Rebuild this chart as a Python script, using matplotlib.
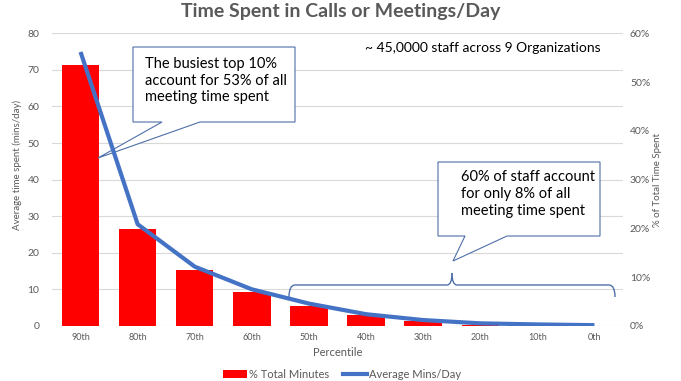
import matplotlib
matplotlib.use("Agg")
import matplotlib.pyplot as plt
from matplotlib.patches import Polygon, PathPatch
from matplotlib.path import Path
from matplotlib.lines import Line2D
from matplotlib.patches import Patch
from matplotlib.ticker import FuncFormatter

# ---------------- data ----------------
percentiles = ["90th", "80th", "70th", "60th", "50th", "40th", "30th", "20th", "10th", "0th"]
pct_total_minutes = [53.6, 19.9, 11.5, 6.9, 4.0, 2.2, 1.05, 0.25, 0.1, 0.02]   # right axis, %
avg_mins_per_day = [74.9, 27.8, 16.2, 10.0, 6.1, 3.2, 1.6, 0.7, 0.4, 0.2]     # left axis, mins
left_ticks = [0, 10, 20, 30, 40, 50, 60, 70, 80]
right_ticks = [0, 10, 20, 30, 40, 50, 60]

title = "Time Spent in Calls or Meetings/Day"
note = "~ 45,0000 staff across 9 Organizations"
callout1 = "The busiest top 10%\naccount for 53% of all\nmeeting time spent"
callout2 = "60% of staff account\nfor only 8% of all\nmeeting time spent"

# ---------------- style ----------------
plt.rcParams['font.family'] = ['Lato', 'DejaVu Sans']
W, H = 681, 381
fig = plt.figure(figsize=(W / 100, H / 100), dpi=100)
grey = "#595959"
red = "#FF0000"
blue = "#4472C4"
edge = "#4F6FA8"

def fx(px):
    return px / W

def fy(py):
    return 1 - py / H

left, right, top, bottom = 52, 623, 33.3, 325.9
ax = fig.add_axes([fx(left), fy(bottom), fx(right) - fx(left), fy(top) - fy(bottom)])
ax2 = ax.twinx()   # bars (percent)
ax3 = ax.twinx()   # line (minutes)

x = list(range(len(percentiles)))

# gridlines on host axis
ax.set_ylim(0, 80)
ax.set_yticks(left_ticks)
ax.grid(axis='y', color='#D9D9D9', lw=0.8)
ax.set_axisbelow(True)
ax.set_xlim(-0.5, len(percentiles) - 0.5)
ax.set_xticks(x)
ax.set_xticklabels(percentiles)
ax.tick_params(axis='x', length=0, pad=5, labelsize=6.5, labelcolor=grey)
ax.tick_params(axis='y', length=0, pad=9, labelsize=7.5, labelcolor=grey)
for s in ax.spines.values():
    s.set_visible(False)
ax.set_xlabel("Percentile", fontsize=8, color=grey, labelpad=4)
ax.set_ylabel("Average time spent (mins/day)", fontsize=7, color=grey, labelpad=3)
ax.yaxis.set_label_coords(-0.052, 0.55)

# bars on the right axis
ax2.bar(x, pct_total_minutes, width=0.656, color=red, zorder=2)
ax2.set_ylim(0, 60)
ax2.set_yticks(right_ticks)
ax2.yaxis.set_major_formatter(FuncFormatter(lambda v, p: f"{v:.0f}%"))
ax2.tick_params(axis='y', length=0, pad=5, labelsize=7.5, labelcolor=grey)
for s in ax2.spines.values():
    s.set_visible(False)
ax2.set_ylabel("% of Total Time Spent", fontsize=7, color=grey, labelpad=2)

# line on third axis sharing the left scale
ax3.set_ylim(0, 80)
ax3.plot(x, avg_mins_per_day, color=blue, lw=3, solid_capstyle='butt', solid_joinstyle='round', zorder=3)
ax3.set_yticks([])
for s in ax3.spines.values():
    s.set_visible(False)

# ---------------- title & note ----------------
fig.text(fx(341), fy(12), title, ha='center', va='center', fontsize=14,
         fontweight='bold', color=grey)
fig.text(fx(365), fy(48), note, ha='left', va='center', fontsize=10, color='black')

# ---------------- callouts ----------------
def pts(lst):
    return [(fx(a), fy(b)) for a, b in lst]

c1 = Polygon(pts([(133, 47), (295, 47), (295, 122), (200, 122), (98, 158), (162, 122), (133, 122)]),
             closed=True, facecolor='white', edgecolor=edge, lw=0.8,
             transform=fig.transFigure, zorder=2, clip_on=False)
ax3.add_patch(c1)
ax3.text(fx(145), fy(57), callout1, transform=fig.transFigure, ha='left', va='top',
         fontsize=10.5, color='black', linespacing=1.25, zorder=4)

c2 = Polygon(pts([(438, 162), (600, 162), (600, 236), (507, 236), (453, 261), (465, 236), (438, 236)]),
             closed=True, facecolor='white', edgecolor=edge, lw=0.8,
             transform=fig.transFigure, zorder=2, clip_on=False)
ax3.add_patch(c2)
ax3.text(fx(461), fy(170), callout2, transform=fig.transFigure, ha='left', va='top',
         fontsize=10.5, color='black', linespacing=1.25, zorder=4)

# ---------------- brace ----------------
def brace_half(xa, xm, sgn):
    verts = [(xa, 297), (xa, 285), (xa + sgn * 6, 285), (xm - sgn * 5, 285), (xm, 285), (xm, 273)]
    codes = [Path.MOVETO, Path.CURVE3, Path.CURVE3, Path.LINETO, Path.CURVE3, Path.CURVE3]
    return Path([(fx(a), fy(b)) for a, b in verts], codes)

for xa, sgn in [(289, 1), (615, -1)]:
    ax3.add_patch(PathPatch(brace_half(xa, 452, sgn), facecolor='none', edgecolor=edge, lw=1.0,
                            transform=fig.transFigure, clip_on=False, zorder=2))

# ---------------- legend ----------------
handles = [Patch(facecolor=red, edgecolor='none'), Line2D([0], [0], color=blue, lw=3)]
fig.legend(handles, ["% Total Minutes", "Average Mins/Day"], loc='center',
           bbox_to_anchor=(fx(342), fy(374)), ncol=2, frameon=False, fontsize=8,
           labelcolor=grey, handlelength=2.2, handleheight=0.7, handletextpad=0.2,
           columnspacing=1.2)

fig.savefig("out.png", dpi=100)
